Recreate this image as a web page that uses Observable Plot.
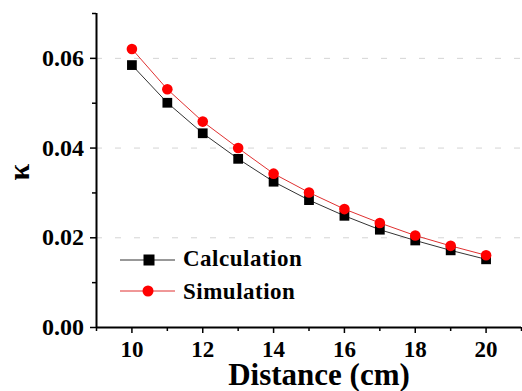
<!DOCTYPE html>
<html>
<head>
<meta charset="utf-8">
<script src="https://cdn.jsdelivr.net/npm/d3@7"></script>
<script src="https://cdn.jsdelivr.net/npm/@observablehq/plot@0.6"></script>
<style>
  html, body { margin: 0; padding: 0; background: #fff; }
  svg, svg text { font-family: "Liberation Serif", Tinos, "Times New Roman", Times, "DejaVu Serif", serif !important; font-weight: bold; }
</style>
</head>
<body>
<div id="chart"></div>
<script>
const distance = [10, 11, 12, 13, 14, 15, 16, 17, 18, 19, 20];
const calculation = [0.0585, 0.0501, 0.0433, 0.0376, 0.0325, 0.0284, 0.0249, 0.0218, 0.0194, 0.0172, 0.0152];
const simulation = [0.0621, 0.0531, 0.0459, 0.0400, 0.0343, 0.0301, 0.0264, 0.0233, 0.0205, 0.0182, 0.0161];
const xTicks = [10, 12, 14, 16, 18, 20];
const xMinorTicks = [9, 11, 13, 15, 17, 19, 21];
const yTicks = [0, 0.02, 0.04, 0.06];
const yMinorTicks = [0.01, 0.03, 0.05, 0.07];
const seriesNames = ["Calculation", "Simulation"];
const seriesColors = ["#000000", "#ff0000"];

const calcData = distance.map((d, i) => ({x: d, y: calculation[i]}));
const simData = distance.map((d, i) => ({x: d, y: simulation[i]}));

const chart = Plot.plot({
  width: 522,
  height: 391,
  marginLeft: 96,
  marginRight: 1,
  marginTop: 13,
  marginBottom: 64,
  style: {fontFamily: "'Liberation Serif', 'DejaVu Serif', serif", background: "#fff"},
  x: {domain: [9, 21]},
  y: {domain: [0, 0.07]},
  marks: [
    Plot.ruleY(yTicks.filter(d => d > 0), {stroke: "#d4d4d4", strokeWidth: 1, strokeDasharray: "6,13"}),
    Plot.line(calcData, {x: "x", y: "y", stroke: "#333", strokeWidth: 1}),
    Plot.line(simData, {x: "x", y: "y", stroke: "#e03030", strokeWidth: 1}),
    Plot.dot(calcData, {x: "x", y: "y", symbol: "square", r: 5.5, fill: seriesColors[0], stroke: "none"}),
    Plot.dot(simData, {x: "x", y: "y", symbol: "circle", r: 5.3, fill: seriesColors[1], stroke: "none"}),
    Plot.axisY(yTicks, {tickSize: 6, tickPadding: 6.5, tickFormat: d3.format(".2f"), fontSize: 24, fontWeight: "bold", label: null, strokeWidth: 1.5}),
    Plot.axisY(yMinorTicks, {tickSize: 4, text: null, label: null, strokeWidth: 1.5}),
    Plot.axisX(xTicks, {tickSize: 6, tickPadding: 7, fontSize: 23, fontWeight: "bold", label: null, strokeWidth: 1.5}),
    Plot.axisX(xMinorTicks, {tickSize: 4, text: null, label: null, strokeWidth: 1.5}),
    Plot.ruleX([9], {stroke: "#000", strokeWidth: 2}),
    Plot.ruleY([0], {stroke: "#000", strokeWidth: 2}),
    Plot.text(["Distance (cm)"], {frameAnchor: "bottom", dx: 10, dy: 47.5, fontSize: 31, fontWeight: "bold", lineAnchor: "middle", style: "letter-spacing:1.2px"}),
    Plot.text(["κ"], {frameAnchor: "left", dx: -77, dy: 10, rotate: -90, fontSize: 30, fontWeight: "bold"})
  ]
});

document.getElementById("chart").appendChild(chart);

// legend
const svg = d3.select(chart);
const legend = svg.append("g");
const legendRows = [
  {name: seriesNames[0], color: seriesColors[0], line: "#333", symbol: "square", y: 260, base: 266},
  {name: seriesNames[1], color: seriesColors[1], line: "#e03030", symbol: "circle", y: 291, base: 299}
];
for (const r of legendRows) {
  legend.append("line").attr("x1", 120).attr("x2", 175).attr("y1", r.y).attr("y2", r.y)
    .attr("stroke", r.line).attr("stroke-width", 1);
  if (r.symbol === "square") {
    legend.append("rect").attr("x", 143.5).attr("y", r.y - 5.5).attr("width", 11).attr("height", 11).attr("fill", r.color);
  } else {
    legend.append("circle").attr("cx", 148).attr("cy", r.y).attr("r", 5.5).attr("fill", r.color);
  }
  legend.append("text").attr("x", 183).attr("y", r.base)
    .attr("text-anchor", "start").attr("letter-spacing", "0.5px")
    .attr("font-size", 23).attr("font-weight", "bold").attr("fill", "#000").text(r.name);
}
</script>
</body>
</html>
